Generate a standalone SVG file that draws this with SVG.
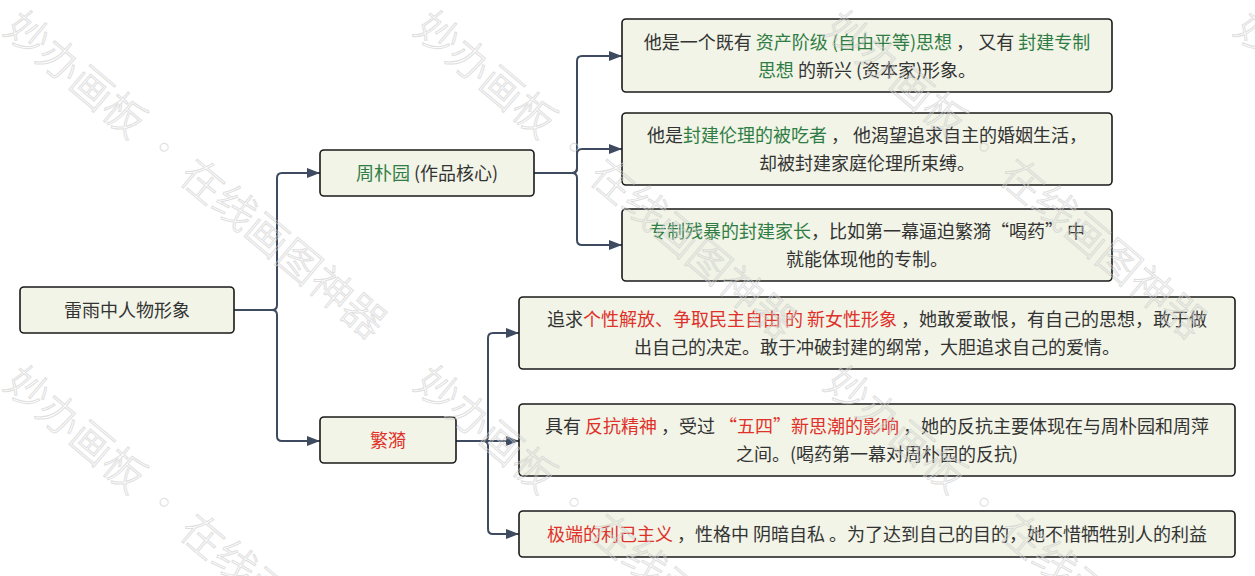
<svg xmlns="http://www.w3.org/2000/svg" width="1255" height="576" viewBox="0 0 1255 576">
<style>
.box{fill:#f1f4e6;stroke:#1a1a1a;stroke-width:1.6}
.t{font-family:"Noto Sans CJK SC","Noto Sans",sans-serif;font-size:18px;fill:#333;text-anchor:middle}
.g{fill:#2f7d45}
.r{fill:#e0312b}
.c{fill:none;stroke:#3d4a5f;stroke-width:2}
.wm{font-family:"Noto Sans CJK SC",sans-serif;font-size:42px;font-weight:300;fill:none;stroke:#cfcfcf;stroke-width:1;opacity:0.65}
</style>
<defs>
<marker id="ah" markerUnits="userSpaceOnUse" markerWidth="13" markerHeight="10" refX="13" refY="5" orient="auto">
<path d="M0,0 L13,5 L0,10 z" fill="#3d4a5f"/>
</marker>
</defs>
<rect width="1255" height="576" fill="#fff"/>
<g id="connectors">
<path class="c" marker-end="url(#ah)" d="M234,310 H272 Q277,310 277,305 V178 Q277,173 282,173 H320"/>
<path class="c" marker-end="url(#ah)" d="M234,310 H272 Q277,310 277,315 V436 Q277,441 282,441 H320"/>
<path class="c" marker-end="url(#ah)" d="M534,173 H572 Q577,173 577,168 V61 Q577,56 582,56 H622"/>
<path class="c" marker-end="url(#ah)" d="M534,173 H572 Q577,173 577,168 V154 Q577,149 582,149 H622"/>
<path class="c" marker-end="url(#ah)" d="M534,173 H572 Q577,173 577,178 V240 Q577,245 582,245 H622"/>
<path class="c" marker-end="url(#ah)" d="M456,441 H483 Q488,441 488,436 V338 Q488,333 493,333 H519"/>
<path class="c" marker-end="url(#ah)" d="M456,441 H519"/>
<path class="c" marker-end="url(#ah)" d="M456,441 H483 Q488,441 488,446 V529 Q488,534 493,534 H519"/>
</g>
<g id="root">
<rect class="box" x="20" y="287" width="214" height="46" rx="4"/>
<text class="t" x="127" y="317">雷雨中人物形象</text>
</g>
<g id="zhoupuyuan">
<rect class="box" x="320" y="150" width="214" height="46" rx="4"/>
<text class="t" x="427" y="180"><tspan class="g">周朴园</tspan> (作品核心)</text>
</g>
<g id="fanyi">
<rect class="box" x="320" y="417" width="136" height="46" rx="4"/>
<text class="t r" x="388" y="447">繁漪</text>
</g>
<g id="z1">
<rect class="box" x="622" y="19" width="490" height="73" rx="4"/>
<text class="t" x="867" y="48.5">他是一个既有 <tspan class="g">资产阶级 (自由平等)思想</tspan> ， 又有 <tspan class="g">封建专制</tspan></text>
<text class="t" x="867" y="76.5"><tspan class="g">思想</tspan> 的新兴 (资本家)形象。</text>
</g>
<g id="z2">
<rect class="box" x="622" y="113" width="490" height="72" rx="4"/>
<text class="t" x="867" y="142">他是<tspan class="g">封建伦理的被吃者</tspan> ， 他渴望追求自主的婚姻生活，</text>
<text class="t" x="867" y="170">却被封建家庭伦理所束缚。</text>
</g>
<g id="z3">
<rect class="box" x="622" y="209" width="490" height="72" rx="4"/>
<text class="t" x="867" y="238"><tspan class="g">专制残暴的封建家长</tspan>，比如第一幕逼迫繁漪“喝药” 中</text>
<text class="t" x="867" y="266">就能体现他的专制。</text>
</g>
<g id="f1">
<rect class="box" x="519" y="297" width="716" height="72" rx="4"/>
<text class="t" x="877" y="326">追求<tspan class="r">个性解放、争取民主自由 的 新女性形象</tspan> ，她敢爱敢恨，有自己的思想，敢于做</text>
<text class="t" x="877" y="354">出自己的决定。敢于冲破封建的纲常，大胆追求自己的爱情。</text>
</g>
<g id="f2">
<rect class="box" x="519" y="404" width="716" height="72" rx="4"/>
<text class="t" x="877" y="433">具有 <tspan class="r">反抗精神</tspan> ，受过 <tspan class="r">“五四”新思潮的影响</tspan> ，她的反抗主要体现在与周朴园和周萍</text>
<text class="t" x="877" y="461">之间。(喝药第一幕对周朴园的反抗)</text>
</g>
<g id="f3">
<rect class="box" x="519" y="511" width="716" height="46" rx="4"/>
<text class="t" x="877" y="541"><tspan class="r">极端的利己主义</tspan> ，性格中 阴暗自私 。为了达到自己的目的，她不惜牺牲别人的利益</text>
</g>
<g id="watermark">
<text class="wm" transform="translate(2,32) rotate(40)">妙办画板 · 在线画图神器</text>
<text class="wm" transform="translate(412,32) rotate(40)">妙办画板 · 在线画图神器</text>
<text class="wm" transform="translate(822,32) rotate(40)">妙办画板 · 在线画图神器</text>
<text class="wm" transform="translate(1232,32) rotate(40)">妙办画板 · 在线画图神器</text>
<text class="wm" transform="translate(2,387) rotate(40)">妙办画板 · 在线画图神器</text>
<text class="wm" transform="translate(412,387) rotate(40)">妙办画板 · 在线画图神器</text>
<text class="wm" transform="translate(822,387) rotate(40)">妙办画板 · 在线画图神器</text>
</g>
</svg>
